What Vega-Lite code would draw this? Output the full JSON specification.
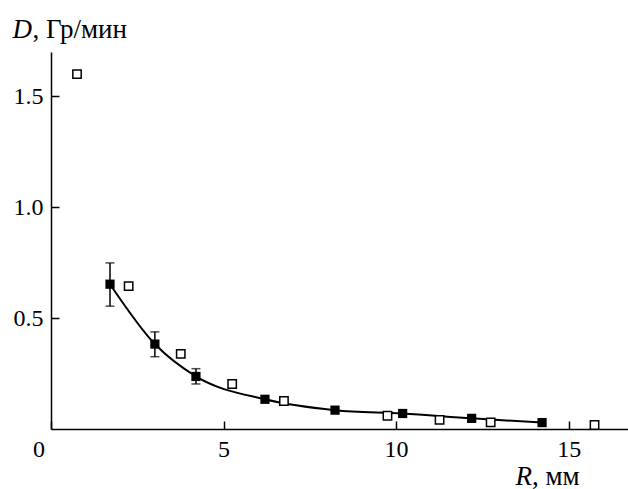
{
  "$schema": "https://vega.github.io/schema/vega-lite/v6.json",
  "autosize": {"type": "none"},
  "padding": {"left": 51, "top": 52, "right": 0, "bottom": 60},
  "width": 577,
  "height": 377,
  "background": "white",
  "config": {
    "view": {"stroke": null},
    "axis": {
      "labelFont": "Liberation Serif",
      "titleFont": "Liberation Serif",
      "labelFontSize": 24,
      "titleFontSize": 27,
      "labelColor": "black",
      "titleColor": "black",
      "titleFontWeight": "normal",
      "domainColor": "black",
      "domainWidth": 1.5,
      "tickColor": "black",
      "tickWidth": 1.5,
      "grid": false
    }
  },
  "datasets": {
    "filled": [
      {"R": 1.71, "D": 0.653, "lo": 0.554, "hi": 0.749},
      {"R": 3.01, "D": 0.383, "lo": 0.326, "hi": 0.438},
      {"R": 4.2, "D": 0.237, "lo": 0.203, "hi": 0.272},
      {"R": 6.2, "D": 0.134},
      {"R": 8.23, "D": 0.085},
      {"R": 10.19, "D": 0.07},
      {"R": 12.19, "D": 0.048},
      {"R": 14.23, "D": 0.029}
    ],
    "open": [
      {"R": 0.754, "D": 1.6},
      {"R": 2.25, "D": 0.644},
      {"R": 3.76, "D": 0.339},
      {"R": 5.25, "D": 0.203},
      {"R": 6.75, "D": 0.126},
      {"R": 9.75, "D": 0.06},
      {"R": 11.26, "D": 0.041},
      {"R": 12.74, "D": 0.03},
      {"R": 15.75, "D": 0.018}
    ]
  },
  "resolve": {"axis": {"x": "independent", "y": "independent"}},
  "layer": [
    {
      "data": {"name": "filled"},
      "mark": {"type": "line", "interpolate": "monotone", "color": "black", "strokeWidth": 2},
      "encoding": {
        "x": {
          "field": "R", "type": "quantitative",
          "scale": {"domain": [0, 16.72], "nice": false, "zero": false},
          "axis": {
            "orient": "bottom",
            "values": [0, 5, 10, 15],
            "tickSize": -8,
            "labelPadding": 16,
            "labelOffset": {"condition": {"test": "datum.value == 0", "value": -12.5}, "value": 0},
            "labelFlush": false,
            "title": "R",
            "titleFontStyle": "italic",
            "titleAlign": "left",
            "titleBaseline": "alphabetic",
            "titleAngle": 0,
            "titleX": 464,
            "titleY": 55
          }
        },
        "y": {
          "field": "D", "type": "quantitative",
          "scale": {"domain": [0, 1.7], "nice": false},
          "axis": {
            "orient": "left",
            "values": [0.5, 1, 1.5],
            "format": ".1f",
            "tickSize": -8,
            "labelPadding": 16,
            "title": "D",
            "titleFontStyle": "italic",
            "titleAngle": 0,
            "titleAlign": "left",
            "titleBaseline": "alphabetic",
            "titleX": -39,
            "titleY": -15
          }
        }
      }
    },
    {
      "data": {"name": "filled"},
      "transform": [{"filter": "isValid(datum.lo)"}],
      "mark": {"type": "rule", "color": "black", "strokeWidth": 1.5},
      "encoding": {
        "x": {
          "field": "R", "type": "quantitative",
          "axis": {
            "orient": "bottom", "labels": false, "ticks": false, "domain": false,
            "title": ", мм",
            "titleAlign": "left",
            "titleBaseline": "alphabetic",
            "titleAngle": 0,
            "titleX": 480.5,
            "titleY": 55
          }
        },
        "y": {
          "field": "lo", "type": "quantitative",
          "axis": {
            "orient": "left", "labels": false, "ticks": false, "domain": false,
            "title": ", Гр/мин",
            "titleAngle": 0,
            "titleAlign": "left",
            "titleBaseline": "alphabetic",
            "titleX": -19,
            "titleY": -15
          }
        },
        "y2": {"field": "hi"}
      }
    },
    {
      "data": {"name": "filled"},
      "transform": [{"filter": "isValid(datum.lo)"}],
      "mark": {"type": "tick", "orient": "horizontal", "color": "black", "thickness": 1.5, "size": 9},
      "encoding": {
        "x": {"field": "R", "type": "quantitative", "axis": null},
        "y": {"field": "lo", "type": "quantitative", "axis": null}
      }
    },
    {
      "data": {"name": "filled"},
      "transform": [{"filter": "isValid(datum.lo)"}],
      "mark": {"type": "tick", "orient": "horizontal", "color": "black", "thickness": 1.5, "size": 9},
      "encoding": {
        "x": {"field": "R", "type": "quantitative", "axis": null},
        "y": {"field": "hi", "type": "quantitative", "axis": null}
      }
    },
    {
      "data": {"name": "filled"},
      "mark": {"type": "point", "shape": "square", "filled": true, "color": "black", "size": 85, "opacity": 1},
      "encoding": {
        "x": {"field": "R", "type": "quantitative", "axis": null},
        "y": {"field": "D", "type": "quantitative", "axis": null}
      }
    },
    {
      "data": {"name": "open"},
      "mark": {"type": "point", "shape": "square", "filled": true, "fill": "white", "stroke": "black", "strokeWidth": 1.5, "size": 70, "opacity": 1},
      "encoding": {
        "x": {"field": "R", "type": "quantitative", "axis": null},
        "y": {"field": "D", "type": "quantitative", "axis": null}
      }
    }
  ]
}
